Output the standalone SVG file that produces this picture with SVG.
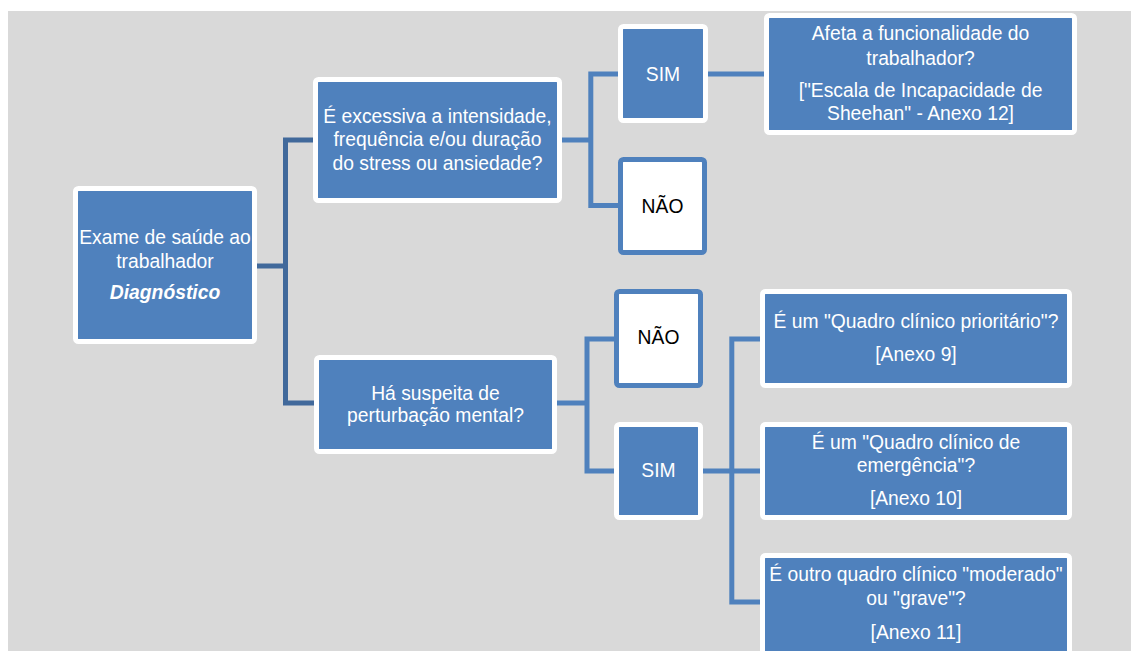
<svg xmlns="http://www.w3.org/2000/svg" width="1131" height="651" viewBox="0 0 1131 651">
<style>
.n{fill:#4f81bd;stroke:#ffffff;stroke-width:5}
.w{fill:#ffffff;stroke:#4f81bd;stroke-width:5}
.c1{fill:none;stroke:#41699b;stroke-width:5}
.c2{fill:none;stroke:#4f81bd;stroke-width:5}
text{font-family:"Liberation Sans",Arial,sans-serif;font-size:19.3px;text-anchor:middle}
.t{fill:#ffffff}
.k{fill:#000000}
</style>
<rect x="0" y="0" width="1131" height="651" fill="#ffffff"/>
<rect x="8" y="11" width="1123" height="640" fill="#d9d9d9"/>
<g id="connectors">
<path class="c1" d="M257,266 H285.5"/>
<path class="c1" d="M313,140 H285.5 V403 H314"/>
<path class="c2" d="M562,140 H590.8"/>
<path class="c2" d="M618,74 H590.8 V205.5 H618"/>
<path class="c2" d="M707,74 H764"/>
<path class="c2" d="M557,403 H587"/>
<path class="c2" d="M614,339 H587 V471 H614"/>
<path class="c2" d="M703,471 H760"/>
<path class="c2" d="M760,339 H731.8 V602 H760"/>
</g>
<g id="root">
<rect class="n" x="75.5" y="188.5" width="179" height="153" rx="3"/>
<text class="t" x="165" y="243.5">Exame de saúde ao</text>
<text class="t" x="165" y="267.5">trabalhador</text>
<text class="t" x="165" y="298.5" font-weight="bold" font-style="italic">Diagnóstico</text>
</g>
<g id="excessiva">
<rect class="n" x="315.5" y="79.5" width="244" height="121" rx="3"/>
<text class="t" x="437.5" y="123">É excessiva a intensidade,</text>
<text class="t" x="437.5" y="146">frequência e/ou duração</text>
<text class="t" x="437.5" y="169.5">do stress ou ansiedade?</text>
</g>
<g id="sim1">
<rect class="n" x="620.5" y="26.5" width="85" height="94" rx="3"/>
<text class="t" x="663" y="80.5">SIM</text>
</g>
<g id="nao1">
<rect class="w" x="620.5" y="159.5" width="84" height="93" rx="3"/>
<text class="k" x="662.5" y="212.5">NÃO</text>
</g>
<g id="afeta">
<rect class="n" x="766.5" y="15.5" width="308" height="117" rx="3"/>
<text class="t" x="920.5" y="40">Afeta a funcionalidade do</text>
<text class="t" x="920.5" y="64.5">trabalhador?</text>
<text class="t" x="920.5" y="96.5">["Escala de Incapacidade de</text>
<text class="t" x="920.5" y="119.5">Sheehan" - Anexo 12]</text>
</g>
<g id="suspeita">
<rect class="n" x="316.5" y="357.5" width="238" height="94" rx="3"/>
<text class="t" x="435.5" y="399.5">Há suspeita de</text>
<text class="t" x="435.5" y="422">perturbação mental?</text>
</g>
<g id="nao2">
<rect class="w" x="616.5" y="291.5" width="84" height="94" rx="3"/>
<text class="k" x="658.5" y="344">NÃO</text>
</g>
<g id="sim2">
<rect class="n" x="616.5" y="424.5" width="84" height="93" rx="3"/>
<text class="t" x="658.5" y="477">SIM</text>
</g>
<g id="prioritario">
<rect class="n" x="762.5" y="291.5" width="307" height="94" rx="3"/>
<text class="t" x="916" y="328">É um "Quadro clínico prioritário"?</text>
<text class="t" x="916" y="361">[Anexo 9]</text>
</g>
<g id="emergencia">
<rect class="n" x="762.5" y="424.5" width="307" height="93" rx="3"/>
<text class="t" x="916" y="448.5">É um "Quadro clínico de</text>
<text class="t" x="916" y="472">emergência"?</text>
<text class="t" x="916" y="505">[Anexo 10]</text>
</g>
<g id="moderado">
<rect class="n" x="762.5" y="555.5" width="307" height="100" rx="3"/>
<text class="t" x="916" y="581">É outro quadro clínico "moderado"</text>
<text class="t" x="916" y="605">ou "grave"?</text>
<text class="t" x="916" y="638.5">[Anexo 11]</text>
</g>
</svg>
